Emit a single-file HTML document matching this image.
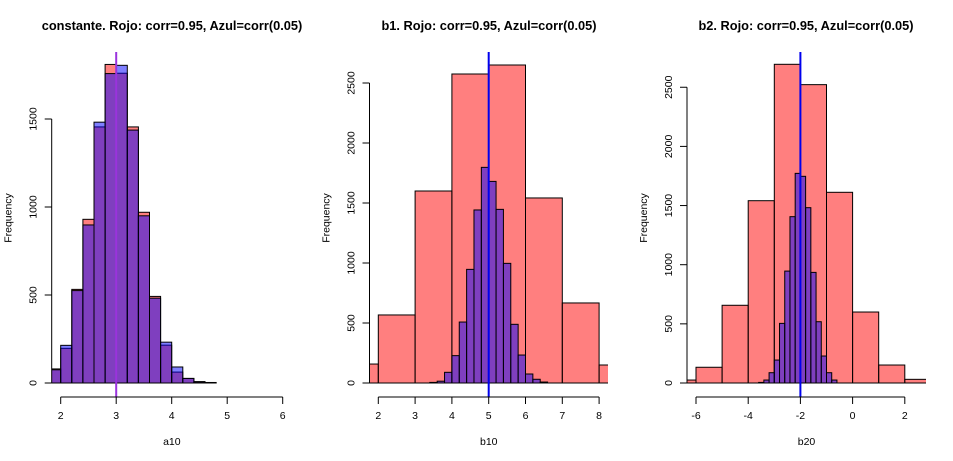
<!DOCTYPE html>
<html><head><meta charset="utf-8"><style>
html,body{margin:0;padding:0;background:#fff;}
svg{display:block;font-family:"Liberation Sans",Arial,sans-serif;}
</style></head><body>
<svg id="chart" width="953" height="461" viewBox="0 0 953 461" xmlns="http://www.w3.org/2000/svg"></svg>
<script>
// Panel 1: a10
const p1Breaks = [1.8,2.0,2.2,2.4,2.6,2.8,3.0,3.2,3.4,3.6,3.8,4.0,4.2,4.4,4.6,4.8];
const p1Red = [80,197,532,930,1455,1810,1760,1455,970,492,215,62,26,8,3];
const p1Blue = [75,214,525,898,1482,1758,1805,1437,950,482,232,91,26,6,2];
const p1XTicks = [2,3,4,5,6];
const p1YTicks = [0,500,1000,1500];
// Panel 2: b10
const p2RedBreaks = [1,2,3,4,5,6,7,8,9];
const p2Red = [158,567,1600,2575,2650,1542,667,150];
const p2BlueBreaks = [3.4,3.6,3.8,4.0,4.2,4.4,4.6,4.8,5.0,5.2,5.4,5.6,5.8,6.0,6.2,6.4,6.6];
const p2Blue = [5,15,89,228,508,947,1442,1797,1680,1447,997,489,233,75,31,8];
const p2XTicks = [2,3,4,5,6,7,8];
const p2YTicks = [0,500,1000,1500,2000,2500];
// Panel 3: b20
const p3RedBreaks = [-7,-6,-5,-4,-3,-2,-1,0,1,2,3];
const p3Red = [25,133,657,1541,2694,2522,1612,600,152,31];
const p3BlueBreaks = [-3.6,-3.4,-3.2,-3.0,-2.8,-2.6,-2.4,-2.2,-2.0,-1.8,-1.6,-1.4,-1.2,-1.0,-0.8,-0.6];
const p3Blue = [5,25,87,194,504,946,1406,1772,1747,1482,935,518,228,87,25];
const p3XTicks = [-6,-4,-2,0,2];
const p3YTicks = [0,500,1000,1500,2000,2500];

const NS = "http://www.w3.org/2000/svg";
const svg = document.getElementById("chart");
function mk(tag, attrs, parent){
  const e = document.createElementNS(NS, tag);
  for (const k in attrs) e.setAttribute(k, attrs[k]);
  (parent||svg).appendChild(e);
  return e;
}

function panel(cfg){
  const g = mk("g", {});
  
  
  const x = v => cfg.x0 + (v - cfg.xa) * cfg.xs;
  const y = v => 383 - v * cfg.ys;
  const clipId = cfg.name + "-clip";
  const cp = mk("clipPath", {id: clipId}, g);
  mk("rect", {x: cfg.left, y: 40, width: cfg.right - cfg.left, height: 360}, cp);
  const bars = mk("g", {"clip-path": "url(#" + clipId + ")"}, g);
  function drawHist(breaks, counts, fill, nm){
    for (let i = 0; i < counts.length; i++){
      const r = mk("rect", {x: x(breaks[i]), y: y(counts[i]), width: x(breaks[i+1]) - x(breaks[i]), height: counts[i]*cfg.ys, fill: fill, stroke: "#000", "stroke-width": 1}, bars);
      
      
    }
  }
  drawHist(cfg.redBreaks, cfg.red, "rgba(255,0,0,0.5)", "red");
  drawHist(cfg.blueBreaks, cfg.blue, "rgba(0,0,255,0.5)", "blue");
  const vl = mk("line", {x1: x(cfg.vline), x2: x(cfg.vline), y1: 52, y2: 397, stroke: cfg.vcolor, "stroke-width": 2}, g);
  
  
  // x axis
  const xa = mk("g", {}, g);
  
  
  const xt = cfg.xTicks;
  mk("line", {x1: x(xt[0]), x2: x(xt[xt.length-1]), y1: 397, y2: 397, stroke: "#000"}, xa);
  xt.forEach(t => {
    mk("line", {x1: x(t), x2: x(t), y1: 397, y2: 404, stroke: "#000"}, xa);
    const tx = mk("text", {x: x(t), y: 419, "font-size": 10.5, "text-anchor": "middle"}, xa);
    tx.textContent = t;
  });
  const xl = mk("text", {x: (cfg.left + cfg.right)/2, y: 445, "font-size": 10.5, "text-anchor": "middle"}, g);
  xl.textContent = cfg.xlabel;
  
  
  // y axis
  const ya = mk("g", {}, g);
  
  
  const yt = cfg.yTicks;
  mk("line", {x1: cfg.left, x2: cfg.left, y1: y(yt[0]), y2: y(yt[yt.length-1]), stroke: "#000"}, ya);
  yt.forEach(t => {
    mk("line", {x1: cfg.left - 7, x2: cfg.left, y1: y(t), y2: y(t), stroke: "#000"}, ya);
    const tx = mk("text", {x: 0, y: 0, "font-size": 10.5, "text-anchor": "middle", transform: "translate(" + (cfg.left - 15) + "," + y(t) + ") rotate(-90)"}, ya);
    tx.textContent = t;
  });
  const yl = mk("text", {x: 0, y: 0, "font-size": 10.5, "text-anchor": "middle", transform: "translate(" + (cfg.left - 40) + ",218) rotate(-90)"}, g);
  yl.textContent = "Frequency";
  
  
  const ti = mk("text", {x: cfg.tx, y: 30, "font-size": 12.8, "font-weight": "bold", "text-anchor": "middle"}, g);
  ti.textContent = cfg.title;
  
  
}

panel({name: "panel-a10", x0: 60.7, xa: 2, xs: 55.5, ys: 0.176, left: 51.7, right: 292,
  redBreaks: p1Breaks, red: p1Red, blueBreaks: p1Breaks, blue: p1Blue, vline: 3, vcolor: "#9a33dd",
  xTicks: p1XTicks, yTicks: p1YTicks, xlabel: "a10", tx: 172,
  title: "constante. Rojo: corr=0.95, Azul=corr(0.05)"});
panel({name: "panel-b10", x0: 378.3, xa: 2, xs: 36.8, ys: 0.12, left: 369.5, right: 608,
  redBreaks: p2RedBreaks, red: p2Red, blueBreaks: p2BlueBreaks, blue: p2Blue, vline: 5, vcolor: "#0000ee",
  xTicks: p2XTicks, yTicks: p2YTicks, xlabel: "b10", tx: 489,
  title: "b1. Rojo: corr=0.95, Azul=corr(0.05)"});
panel({name: "panel-b20", x0: 696, xa: -6, xs: 26.1, ys: 0.1183, left: 687, right: 926,
  redBreaks: p3RedBreaks, red: p3Red, blueBreaks: p3BlueBreaks, blue: p3Blue, vline: -2, vcolor: "#0000ee",
  xTicks: p3XTicks, yTicks: p3YTicks, xlabel: "b20", tx: 806,
  title: "b2. Rojo: corr=0.95, Azul=corr(0.05)"});
</script>
</body></html>
